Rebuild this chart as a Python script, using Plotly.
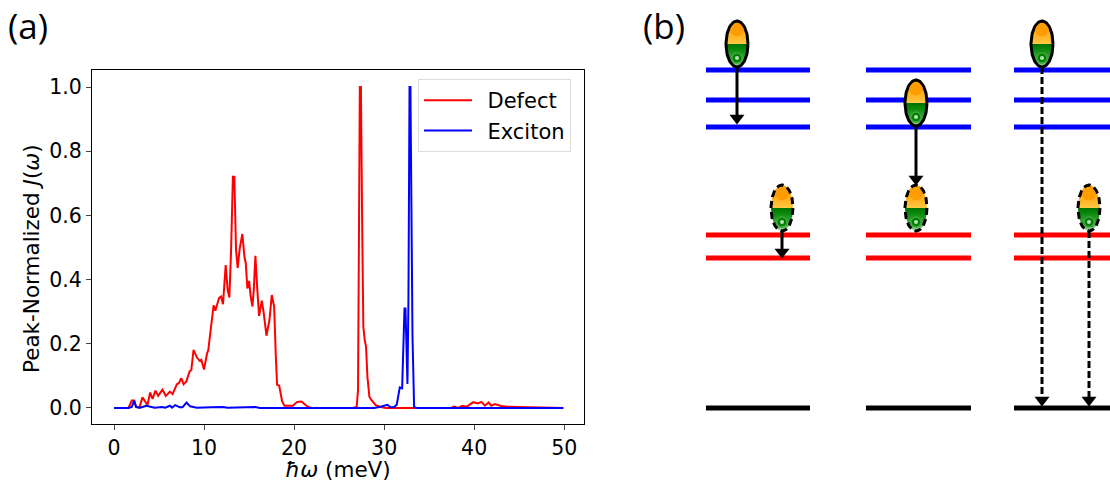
import numpy as np
import plotly.graph_objects as go

W, H = 1110, 482
FONT = "DejaVu Sans"

defect_x = [0, 1.3, 1.6, 1.97, 2.23, 2.45, 2.82, 3.15, 3.53, 3.71, 4.01, 4.27, 4.6, 4.9, 5.38, 5.75, 6.2, 6.5, 6.98, 7.2,
            7.46, 7.72, 8.02, 8.39, 8.58, 8.83, 9.21, 9.5, 9.69, 9.99, 10.32, 10.47, 10.77, 11.06, 11.25, 11.66, 11.88,
            12.1, 12.4, 12.62, 12.81, 13.0, 13.2, 13.36, 13.55, 13.73, 13.96, 14.25, 14.48, 14.63, 14.81, 15.0, 15.18,
            15.37, 15.52, 15.7, 15.89, 16.11, 16.41, 16.63, 16.93, 17.26, 17.52, 17.78, 17.97, 18.11, 18.34, 18.67,
            18.93, 19.41, 19.86, 20.34, 20.82, 21.27, 21.64, 22, 26.5, 26.95, 27.1, 27.3, 27.42, 27.55, 27.69, 27.84,
            27.99, 28.14, 28.36, 28.58, 29.06, 29.6, 30.2, 33, 37.4, 37.8, 38.2, 38.7, 39.2, 39.9, 40.4, 40.8, 41.2,
            41.6, 41.9, 42.3, 43, 43.7, 45.2, 46, 49.9]
defect_y = [0, 0, 0, 0.023, 0.023, 0.003, 0.001, 0.033, 0.015, 0.009, 0.048, 0.028, 0.054, 0.038, 0.057, 0.037, 0.051,
            0.043, 0.074, 0.077, 0.093, 0.074, 0.082, 0.114, 0.118, 0.181, 0.157, 0.147, 0.15, 0.12, 0.168, 0.181,
            0.253, 0.32, 0.303, 0.342, 0.347, 0.323, 0.445, 0.368, 0.344, 0.492, 0.72, 0.72, 0.492, 0.436, 0.497,
            0.542, 0.471, 0.451, 0.372, 0.396, 0.347, 0.316, 0.368, 0.474, 0.378, 0.287, 0.334, 0.295, 0.225, 0.274,
            0.352, 0.316, 0.16, 0.072, 0.07, 0.02, 0.007, 0.006, 0.007, 0.019, 0.02, 0.009, 0.002, 0, 0, 0.003, 0.056,
            1.0, 1.0, 0.6, 0.253, 0.212, 0.191, 0.098, 0.035, 0.025, 0.009, 0.003, 0, 0, 0, 0.004, 0, 0.007, 0.004,
            0.018, 0.014, 0.019, 0.007, 0.017, 0.007, 0.012, 0.006, 0.004, 0.003, 0.001, 0]

exciton_x = [0, 1.6, 1.97, 2.23, 2.45, 2.9, 3.6, 4.5, 5.3, 5.7, 6.2, 6.45, 6.8, 7.3, 7.6, 8.05, 8.45, 9.2, 10.8, 12.1,
             12.6, 15.7, 16.2, 28.9, 29.6, 30.36, 30.7, 31.1, 31.4, 31.55, 31.74, 32.0, 32.15, 32.26, 32.37, 32.52,
             32.59, 32.7, 32.82, 32.92, 33.15, 33.33, 33.6, 49.9]
exciton_y = [0, 0, 0.003, 0.023, 0.003, 0.001, 0.007, 0.001, 0.003, 0.001, 0.007, 0.001, 0.009, 0.002, 0.002, 0.017,
             0.005, 0.001, 0.002, 0.003, 0.001, 0.003, 0, 0, 0.004, 0.01, 0.002, 0.003, 0.01, 0.03, 0.064, 0.061,
             0.222, 0.31, 0.31, 0.16, 0.075, 0.34, 1.0, 1.0, 0.222, 0.003, 0, 0]

x_ticks = [0, 10, 20, 30, 40, 50]
y_ticks = [0.0, 0.2, 0.4, 0.6, 0.8, 1.0]

# Panel (b) schematic, in the panel's own units
col_spans = [(706, 810), (866, 971), (1014, 1118)]
level_sets = [("#0000ff", [70, 100, 127]), ("#ff0000", [235, 258]), ("#000000", [408])]
bright = [(737, 44), (916, 103), (1042, 44)]
dark = [(782, 208), (916, 208), (1089, 208)]
solid_arrows = [(737, 67, 124), (782, 231, 258), (916, 127, 185)]
dashed_arrows = [(1042, 67, 406), (1089, 231, 406)]

fig = go.Figure()
fig.add_trace(go.Scatter(x=defect_x, y=defect_y, mode="lines", name="\u2002Defect",
                         line=dict(color="#ff0000", width=2)))
fig.add_trace(go.Scatter(x=exciton_x, y=exciton_y, mode="lines", name="\u2002Exciton",
                         line=dict(color="#0000ff", width=2)))


def schem(**kw):
    fig.add_trace(go.Scatter(xaxis="x2", yaxis="y2", showlegend=False, hoverinfo="skip", **kw))


for color, levels in level_sets:
    for lv in levels:
        for a, b in col_spans:
            schem(x=[a, b], y=[lv, lv], mode="lines", line=dict(color=color, width=5))

for dash, arrows in (("solid", solid_arrows), ("dash", dashed_arrows)):
    for x0, y0, y1 in arrows:
        schem(x=[x0, x0], y=[y0, y1 - 6], mode="lines",
              line=dict(color="#000000", width=3, dash="solid" if dash == "solid" else "7px,3px"))
        schem(x=[x0], y=[y1 - 6], mode="markers",
              marker=dict(symbol="triangle-down", size=13, color="#000000"))

t = np.linspace(0, 2 * np.pi, 80)
gradient = dict(type="vertical",
                colorscale=[[0, "#a8dca8"], [0.12, "#55b055"], [0.38, "#0a8a0a"], [0.5, "#007000"],
                            [0.5, "#ffcb45"], [0.6, "#ffbb30"], [1, "#ff9900"]])
for centres, dash in ((bright, "solid"), (dark, "7px,4px")):
    for cx, cy in centres:
        schem(x=cx + 11 * np.cos(t), y=cy + 23 * np.sin(t), mode="lines", fill="toself",
              fillgradient=gradient, fillcolor="rgba(0,0,0,0)",
              line=dict(color="#000000", width=3, dash=dash))
        schem(x=[cx], y=[cy - 14], mode="markers", marker=dict(size=13, color="#ff9d00"))
        schem(x=[cx], y=[cy + 14], mode="markers",
              marker=dict(size=10, color="#008000", line=dict(color="#3aa63a", width=1.5)))
        schem(x=[cx], y=[cy + 14], mode="markers", marker=dict(size=4, color="#b8e0b8"))

fig.update_layout(
    width=W, height=H, autosize=False,
    margin=dict(l=0, r=0, t=0, b=0),
    paper_bgcolor="white", plot_bgcolor="white",
    font=dict(family=FONT, size=20.5, color="#000000"),
    xaxis=dict(domain=[92 / W, 584 / W], range=[-2.45, 52.2], tickvals=x_ticks,
               ticks="outside", ticklen=5, tickwidth=1.2, linecolor="#000", linewidth=1.2, mirror=True,
               showgrid=False, zeroline=False, tickfont=dict(size=20.5),
               title=dict(text="<i>ħω</i> (meV)", font=dict(size=21.5), standoff=8)),
    yaxis=dict(domain=[1 - 424 / H, 1 - 70 / H], range=[-0.05, 1.053], tickvals=y_ticks,
               tickformat=".1f", ticks="outside", ticklen=5, tickwidth=1.2, linecolor="#000", linewidth=1.2,
               mirror=True, showgrid=False, zeroline=False, tickfont=dict(size=20.5)),
    xaxis2=dict(domain=[600 / W, 1], range=[600, 1110], visible=False, fixedrange=True),
    yaxis2=dict(domain=[0, 1], range=[482, 0], visible=False, fixedrange=True, anchor="x2"),
    legend=dict(x=418 / W, xanchor="left", y=1 - 79 / H, yanchor="top",
                bgcolor="rgba(255,255,255,0.8)", bordercolor="#dddddd", borderwidth=1,
                font=dict(size=21), itemwidth=48, tracegroupgap=0,
                entrywidth=105, entrywidthmode="pixels"),
    annotations=[
        dict(text="Peak-Normalized <i>J</i>(<i>ω</i>)", x=31 / W, y=1 - 259 / H, xref="paper", yref="paper",
             xanchor="center", yanchor="middle", textangle=-90, showarrow=False, font=dict(size=21.5)),
        dict(text="(a)", x=6 / W, y=1 - 25 / H, xref="paper", yref="paper", xanchor="left", yanchor="middle",
             showarrow=False, font=dict(size=35, family="Open Sans")),
        dict(text="(b)", x=641 / W, y=1 - 25 / H, xref="paper", yref="paper", xanchor="left", yanchor="middle",
             showarrow=False, font=dict(size=35, family="Open Sans")),
    ],
)
fig.write_html("out.html", config=dict(displayModeBar=False),
               post_script="document.body.style.margin='0';")
